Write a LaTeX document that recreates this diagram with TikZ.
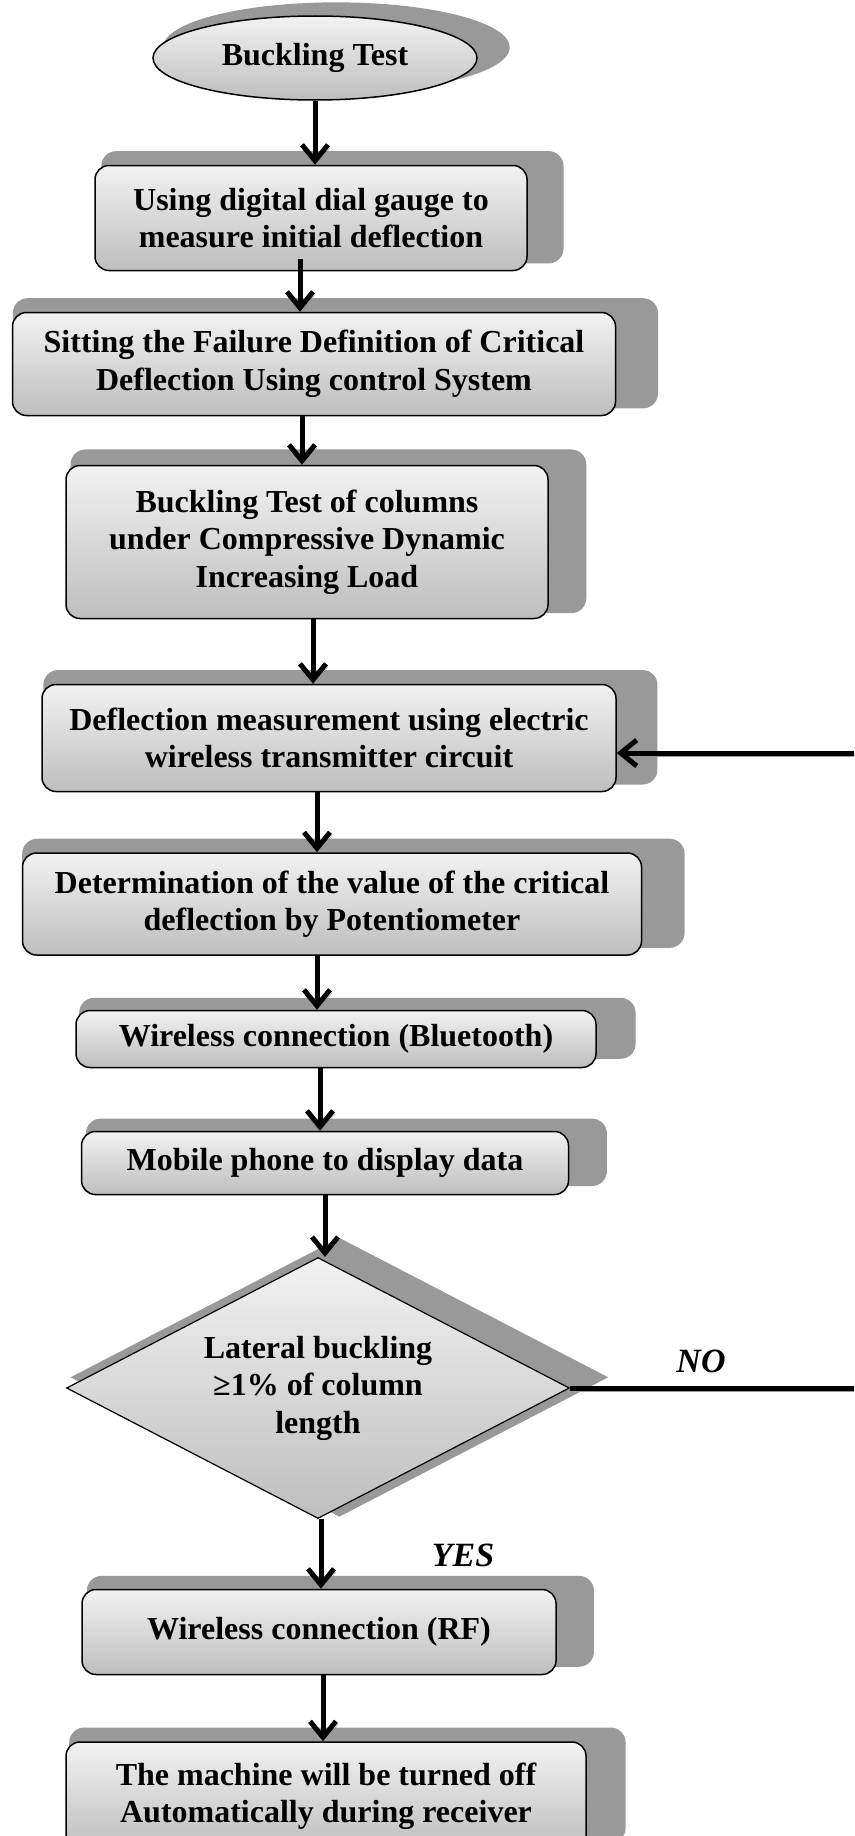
\documentclass[tikz,border=0pt]{standalone}
\usepackage{fontspec}
\setmainfont{Liberation Serif}
\usetikzlibrary{shapes, arrows.meta, shadows}
\usepackage{xcolor}
\definecolor{shadegray}{RGB}{153,153,153}
\definecolor{boxtop}{RGB}{242,242,242}
\definecolor{boxbottom}{RGB}{190,190,190}

\begin{document}
\begin{tikzpicture}[x=1pt, y=-1pt,
  every node/.style={font=\fontsize{32}{37.5}\selectfont\bfseries, align=center},
  boxshadow/.style={drop shadow={shadow xshift=20pt, shadow yshift=10pt, shadow scale=1.07, fill=shadegray, opacity=1}},
  flowbox/.style={draw, line width=1.5pt, rectangle, rounded corners=14pt, top color=boxtop, bottom color=boxbottom, inner sep=0pt, boxshadow},
  flowellipse/.style={draw, line width=1.5pt, ellipse, top color=boxtop, bottom color=boxbottom, inner sep=0pt, boxshadow},
  flowdiamond/.style={draw, line width=1.2pt, diamond, aspect=1.93, top color=boxtop, bottom color=boxbottom, inner sep=0pt, boxshadow},
  flowarrow/.style={line width=5pt, -{Straight Barb[length=16pt, width=26pt]}, preaction={draw=shadegray, transform canvas={shift={(2pt,-3pt)}}}},
  answer/.style={font=\fontsize{34}{40}\selectfont\bfseries\itshape}]

  \clip (0,0) rectangle (854,1836);

  % Start ellipse
  \node (test) [flowellipse, minimum width=324pt, minimum height=84pt] at (315,58) {Buckling Test};

  % Boxes down the chart
  \node (gauge) [flowbox, minimum width=432pt, minimum height=105pt] at (311,218) {Using digital  dial gauge to\\measure initial deflection};
  \node (failure) [flowbox, minimum width=603pt, minimum height=103pt] at (314,364) {Sitting the Failure Definition of Critical\\Deflection Using control System};
  \node (loadtest) [flowbox, minimum width=482pt, minimum height=153pt] at (307,542) {Buckling Test of columns\\under Compressive Dynamic\\Increasing Load};
  \node (measure) [flowbox, minimum width=574pt, minimum height=107pt] at (329,738) {Deflection measurement using electric\\wireless transmitter circuit};
  \node (critical) [flowbox, minimum width=619pt, minimum height=102pt] at (332,904) {Determination of the value of the critical\\deflection by Potentiometer};
  \node (bluetooth) [flowbox, minimum width=520pt, minimum height=57pt] at (336,1039) {Wireless connection (Bluetooth)};
  \node (mobile) [flowbox, minimum width=487pt, minimum height=63pt] at (325,1163) {Mobile phone to display data};

  % Decision
  \node (lateral) [flowdiamond, minimum width=503pt, minimum height=261pt] at (318,1388) {Lateral buckling\\≥1\% of column\\length};

  \node (rf) [flowbox, minimum width=474pt, minimum height=85pt] at (319,1632) {Wireless connection (RF)};
  \node (machine) [flowbox, minimum width=520pt, minimum height=108pt] at (326,1796) {The machine will be turned off\\Automatically during receiver};

  % Answer labels
  \node (nolabel) [answer] at (701,1361) {NO};
  \node (yeslabel) [answer] at (463,1555) {YES};

  % Arrows
  \draw[flowarrow] (test.south) -- (test.south |- gauge.north);
  \draw[flowarrow] ([xshift=-11pt, yshift=12pt]gauge.south) -- ([xshift=-11pt]gauge.south |- failure.north);
  \draw[flowarrow] ([xshift=-12pt]failure.south) -- ([xshift=-12pt]failure.south |- loadtest.north);
  \draw[flowarrow] ([xshift=6pt]loadtest.south) -- ([xshift=6pt]loadtest.south |- measure.north);
  \draw[flowarrow] ([xshift=-12pt]measure.south) -- ([xshift=-12pt]measure.south |- critical.north);
  \draw[flowarrow] ([xshift=-15pt]critical.south) -- ([xshift=-15pt]critical.south |- bluetooth.north);
  \draw[flowarrow] ([xshift=-16pt]bluetooth.south) -- ([xshift=-16pt]bluetooth.south |- mobile.north);
  \draw[flowarrow] (mobile.south) -- (mobile.south |- lateral.north);
  \draw[flowarrow] ([xshift=3pt]lateral.south) -- ([xshift=3pt]lateral.south |- rf.north);
  \draw[flowarrow] ([xshift=4pt]rf.south) -- ([xshift=4pt]rf.south |- machine.north);

  % NO goes back to the measurement
  \coordinate (backturn) at (880,1388);
  \draw[flowarrow] (lateral.east) -- (backturn) |- ([yshift=-15pt]measure.east);

\end{tikzpicture}
\end{document}
